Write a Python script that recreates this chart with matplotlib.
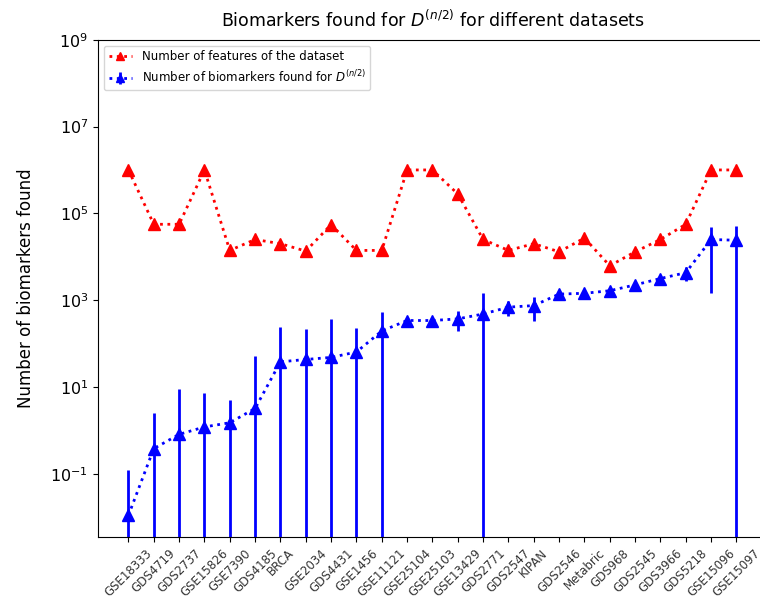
import numpy as np
import matplotlib
matplotlib.use("Agg")
import matplotlib.pyplot as plt

datasets = ["GSE18333", "GDS4719", "GDS2737", "GSE15826", "GSE7390", "GDS4185",
            "BRCA", "GSE2034", "GDS4431", "GSE1456", "GSE11121", "GSE25104",
            "GSE25103", "GSE13429", "GDS2771", "GDS2547", "KIPAN", "GDS2546",
            "Metabric", "GDS968", "GDS2545", "GDS3966", "GDS5218", "GSE15096",
            "GSE15097"]

# number of features in each dataset
n_features = [1.0e6, 5.6e4, 5.6e4, 1.0e6, 1.4e4, 2.5e4,
              2.0e4, 1.35e4, 5.5e4, 1.4e4, 1.4e4, 1.0e6,
              1.0e6, 2.8e5, 2.5e4, 1.4e4, 2.0e4, 1.3e4,
              2.7e4, 6.2e3, 1.3e4, 2.5e4, 5.6e4, 1.0e6,
              1.0e6]

# mean number of biomarkers found for D^(n/2) and its std
n_biomarkers = [0.011, 0.38, 0.81, 1.2, 1.5, 3.2,
                38, 43, 48, 64, 195, 340,
                340, 370, 480, 690, 750, 1380,
                1440, 1650, 2250, 3150, 4300, 25000,
                24000]
std_biomarkers = [0.11, 2.2, 8.3, 6.2, 3.4, 48,
                  200, 170, 320, 165, 330, 40,
                  40, 180, 1020, 250, 420, 150,
                  350, 150, 200, 300, 1500, 23500,
                  28000]

x = np.arange(len(datasets))

fig = plt.figure(figsize=(7.6, 6.02), dpi=100)
ax = fig.add_axes([0.129, 0.108, 0.88, 0.826])

ax.plot(x, n_features, 'r^:', markersize=8, linewidth=2,
        label='Number of features of the dataset')
ax.errorbar(x, n_biomarkers, yerr=std_biomarkers, fmt='b^:', markersize=8,
            linewidth=2, elinewidth=2,
            label='Number of biomarkers found for $D^{(n/2)}$')

ax.set_yscale('log')
ax.set_ylim(3.5e-3, 1e9)
ax.set_xticks(x)
ax.set_xticklabels(datasets, rotation=45, fontsize=8.5, color='#333333')
ax.tick_params(axis='y', labelsize=11.5)
ax.minorticks_off()
ax.set_ylabel('Number of biomarkers found', fontsize=12, labelpad=11)
ax.set_title('Biomarkers found for $D^{(n/2)}$ for different datasets',
             fontsize=12.5, pad=9)
ax.legend(loc='upper left', fontsize=8.5, markerscale=0.8)

plt.savefig('out.png', dpi=100)
